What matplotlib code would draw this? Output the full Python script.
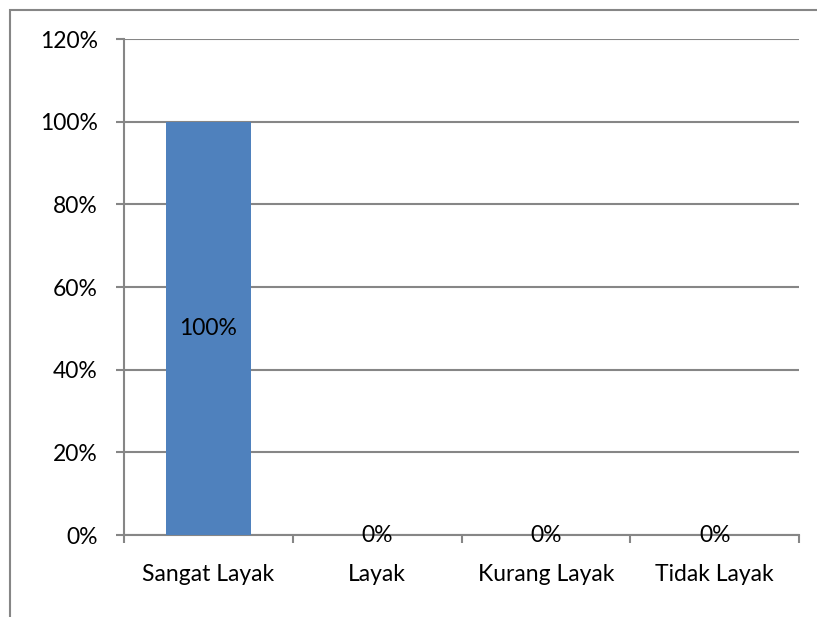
import numpy as np
import matplotlib
matplotlib.use("Agg")
from matplotlib import pyplot as plt
from matplotlib.patches import Rectangle

# Data
categories = ["Sangat Layak", "Layak", "Kurang Layak", "Tidak Layak"]
values = [100, 0, 0, 0]  # %
yticks = [0, 20, 40, 60, 80, 100, 120]

plt.rcParams['font.family'] = ['Lato', 'DejaVu Sans']
W, H = 817, 617
fs = 16.5
fig = plt.figure(figsize=(W / 100, H / 100), dpi=100)

# Outer chart border (runs off the right and bottom edge)
fig.patches.append(Rectangle((10 / W, -0.1), 1.1, 1 - 10 / H + 0.1,
                             transform=fig.transFigure, fill=False,
                             edgecolor='#868686', lw=1.5))

ax = fig.add_axes([124 / W, 1 - 535 / H, (799 - 124) / W, (535 - 39) / H])
x = np.arange(len(categories))
ax.bar(x, values, width=0.5, color='#4F81BD', zorder=3)
ax.set_xlim(-0.5, len(categories) - 0.5)
ax.set_ylim(0, 120)

ax.set_yticks(yticks)
ax.set_yticklabels([f"{v}%" for v in yticks], fontsize=fs)
ax.yaxis.grid(True, color='#868686', lw=1.5, zorder=1)
ax.tick_params(axis='y', length=6, width=1.5, color='#868686', pad=13)

# category boundaries as ticks, names as minor labels
ax.set_xticks(np.arange(len(categories) + 1) - 0.5)
ax.set_xticklabels([])
ax.tick_params(axis='x', which='major', length=6, width=1.5, color='#868686')
ax.set_xticks(x, minor=True)
ax.set_xticklabels(categories, minor=True, fontsize=fs)
ax.tick_params(axis='x', which='minor', length=0, pad=21)

for s in ['top', 'right']:
    ax.spines[s].set_visible(False)
for s in ['left', 'bottom']:
    ax.spines[s].set_color('#868686')
    ax.spines[s].set_linewidth(1.5)

for xi, v in zip(x, values):
    ax.text(xi, v / 2, f"{v}%", ha='center', va='center', fontsize=fs, zorder=4)

fig.savefig("out.png", dpi=100)
